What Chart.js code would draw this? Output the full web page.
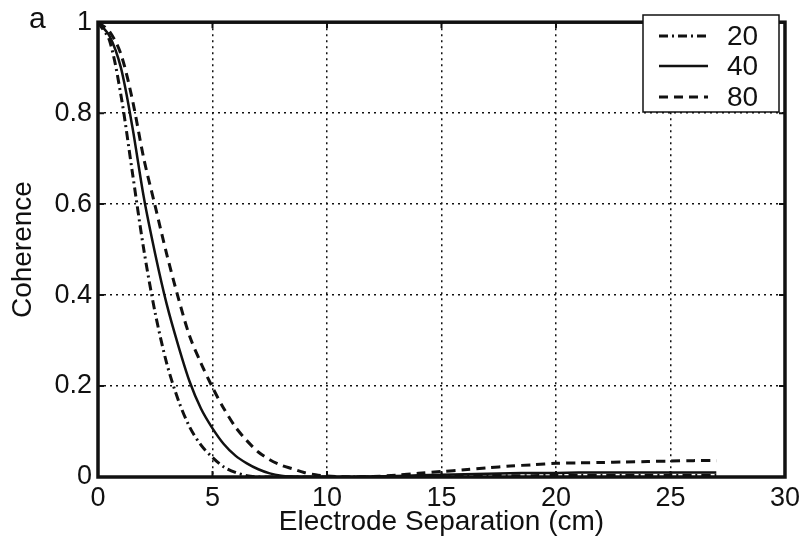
<!DOCTYPE html>
<html>
<head>
<meta charset="utf-8">
<script src="https://cdn.jsdelivr.net/npm/chart.js@4/dist/chart.umd.min.js"></script>
<style>
  html, body { margin: 0; padding: 0; background: #fff; }
  #wrap { position: relative; width: 805px; height: 541px; }
  #panel { position: absolute; left: 29px; top: 1px; font: 30px 'Liberation Sans', Arial, sans-serif; color: #111; }
</style>
</head>
<body>
<div id="wrap">
  <canvas id="coh" width="805" height="541"></canvas>
  <div id="panel">a</div>
</div>
<script>
// electrode separation (cm)
const separation = [0, 0.5, 1, 1.5, 2, 2.5, 3, 3.5, 4, 4.5, 5, 5.5, 6, 6.5, 7, 7.5, 8, 8.5, 9, 9.5, 10,
                    11, 12, 13, 14, 15, 16, 17, 18, 19, 20, 21, 22, 23, 24, 25, 26, 27];

const coh20 = [1, 0.96, 0.84, 0.67, 0.5, 0.36, 0.25, 0.17, 0.11, 0.07, 0.043, 0.022, 0.01, 0.003, 0, 0, 0, 0, 0, 0, 0,
               0, 0, 0, 0.001, 0.002, 0.002, 0.003, 0.003, 0.003, 0.004, 0.004, 0.004, 0.004, 0.004, 0.004, 0.004, 0.004];

const coh40 = [1, 0.97, 0.9, 0.77, 0.615, 0.49, 0.38, 0.29, 0.21, 0.15, 0.107, 0.072, 0.047, 0.03, 0.017, 0.008, 0.003, 0.001, 0, 0, 0,
               0, 0.001, 0.002, 0.004, 0.005, 0.006, 0.007, 0.008, 0.009, 0.009, 0.01, 0.01, 0.01, 0.01, 0.01, 0.01, 0.01];

const coh80 = [1, 0.98, 0.93, 0.83, 0.7, 0.595, 0.49, 0.395, 0.31, 0.25, 0.197, 0.15, 0.11, 0.08, 0.055, 0.038, 0.026, 0.018, 0.01, 0.005, 0.002,
               0, 0.001, 0.004, 0.008, 0.012, 0.016, 0.02, 0.024, 0.027, 0.03, 0.031, 0.032, 0.033, 0.034, 0.035, 0.036, 0.036];

const seriesLabels = ['20', '40', '80'];
const xTicks = [0, 5, 10, 15, 20, 25, 30];
const yTicks = [0, 0.2, 0.4, 0.6, 0.8, 1];

const FONT = "'Liberation Sans', Arial, sans-serif";
const INK = '#111';

const DASHES = {
    '20': [9, 4, 2, 4],
    '40': [],
    '80': [9, 6],
};

function points(ys) {
    return separation.map((x, i) => ({ x: x, y: ys[i] }));
}

function lineSet(label, ys) {
    return {
        label: label,
        data: points(ys),
        borderColor: INK,
        borderWidth: label === '40' ? 2.5 : 3,
        borderDash: DASHES[label],
        pointRadius: 0,
        tension: 0.3,
        fill: false,
    };
}

// frame + inside ticks + legend box
const framePlugin = {
    id: 'frame',
    afterDraw(chart) {
        const { ctx, chartArea: a, scales } = chart;
        ctx.save();
        ctx.strokeStyle = INK;
        ctx.lineWidth = 3.5;
        ctx.strokeRect(a.left, a.top, a.right - a.left, a.bottom - a.top);

        // small inward ticks
        ctx.lineWidth = 2;
        xTicks.forEach(v => {
            const px = scales.x.getPixelForValue(v);
            ctx.beginPath();
            ctx.moveTo(px, a.bottom); ctx.lineTo(px, a.bottom - 6);
            ctx.moveTo(px, a.top); ctx.lineTo(px, a.top + 6);
            ctx.stroke();
        });
        yTicks.forEach(v => {
            const py = scales.y.getPixelForValue(v);
            ctx.beginPath();
            ctx.moveTo(a.left, py); ctx.lineTo(a.left + 6, py);
            ctx.moveTo(a.right, py); ctx.lineTo(a.right - 6, py);
            ctx.stroke();
        });

        // legend
        const bx = 643, by = 15, bw = 136, bh = 97;
        ctx.fillStyle = '#fff';
        ctx.fillRect(bx, by, bw, bh);
        ctx.lineWidth = 1.5;
        ctx.strokeRect(bx, by, bw, bh);
        ctx.font = '28px ' + FONT;
        ctx.textBaseline = 'middle';
        ctx.textAlign = 'left';
        const rows = [36, 66, 97];
        chart.data.datasets.forEach((ds, i) => {
            const y = rows[i];
            ctx.beginPath();
            ctx.setLineDash(ds.borderDash);
            ctx.lineWidth = ds.borderWidth;
            ctx.moveTo(659, y); ctx.lineTo(708, y);
            ctx.stroke();
            ctx.setLineDash([]);
            ctx.fillStyle = INK;
            ctx.fillText(ds.label, 727, y + 1);
        });
        ctx.restore();
    }
};

new Chart(document.getElementById('coh'), {
    type: 'line',
    data: {
        datasets: [
            lineSet(seriesLabels[0], coh20),
            lineSet(seriesLabels[1], coh40),
            lineSet(seriesLabels[2], coh80),
        ]
    },
    options: {
        responsive: false,
        animation: false,
        layout: { padding: { top: 10, right: 20, left: 0, bottom: 0 } },
        plugins: {
            legend: { display: false },
            tooltip: { enabled: false },
        },
        scales: {
            x: {
                type: 'linear',
                min: 0,
                max: 30,
                afterFit(scale) { scale.height = 64; },
                afterBuildTicks(scale) { scale.ticks = xTicks.map(v => ({ value: v })); },
                border: { display: false, dash: [2, 4] },
                grid: {
                    color: INK,
                    lineWidth: 1.5,
                    drawTicks: false,
                },
                ticks: {
                    color: INK,
                    padding: 5,
                    font: { size: 27, family: FONT },
                    maxRotation: 0,
                },
                title: {
                    display: true,
                    text: 'Electrode Separation (cm)',
                    color: INK,
                    font: { size: 28, family: FONT },
                    padding: { top: 0, bottom: 2 },
                },
            },
            y: {
                min: 0,
                max: 1,
                afterFit(scale) { scale.width = 98; },
                afterBuildTicks(scale) { scale.ticks = yTicks.map(v => ({ value: v })); },
                border: { display: false, dash: [2, 4] },
                grid: {
                    color: INK,
                    lineWidth: 1.5,
                    drawTicks: false,
                },
                ticks: {
                    color: INK,
                    padding: 6,
                    font: { size: 27, family: FONT },
                    callback: v => (v === 0 || v === 1) ? String(v) : v.toFixed(1),
                },
                title: {
                    display: true,
                    text: 'Coherence',
                    color: INK,
                    font: { size: 28, family: FONT },
                    padding: { top: 6, bottom: 0 },
                },
            },
        },
    },
    plugins: [framePlugin],
});
</script>
</body>
</html>
